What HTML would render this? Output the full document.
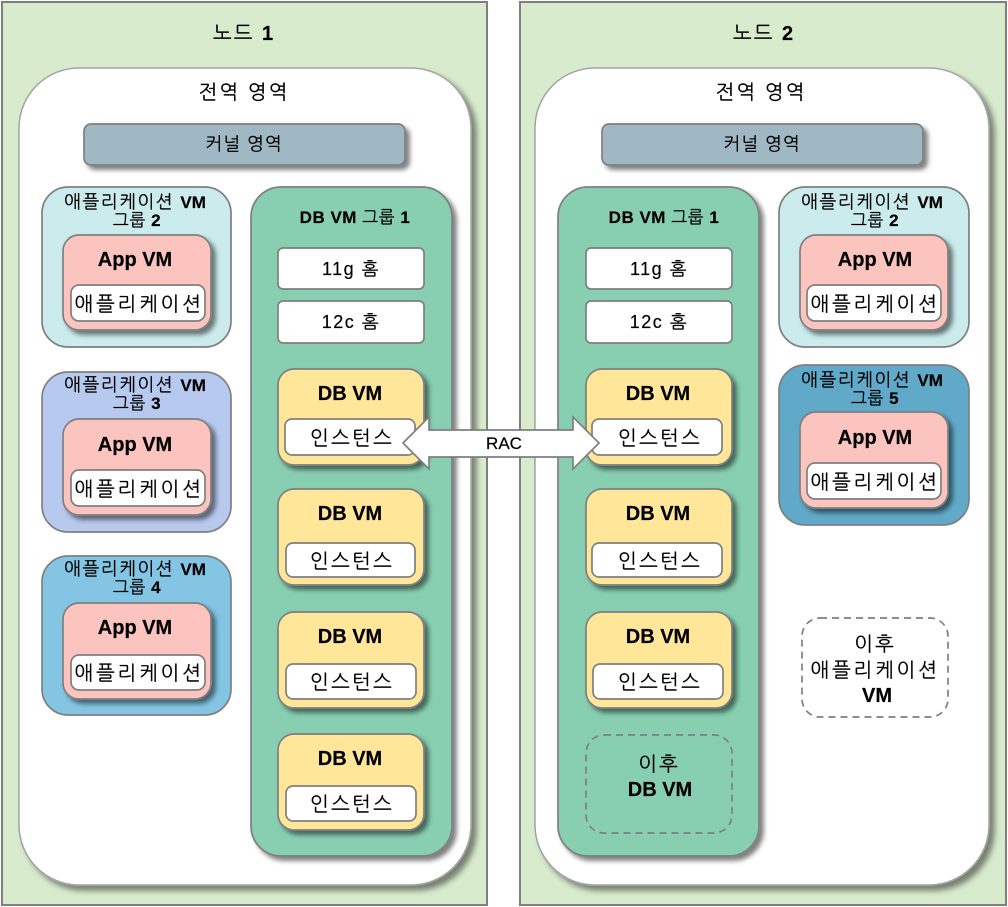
<!DOCTYPE html>
<html lang="ko"><head><meta charset="utf-8"><style>
html,body{margin:0;padding:0;background:#fff}
svg{display:block}
text{font-family:"Liberation Sans","NanumGothic","Noto Sans CJK KR",sans-serif;fill:#000;text-anchor:middle;stroke:#000;stroke-width:.2}
.b{font-weight:bold}
rect{stroke:#7f7f7f;stroke-width:1.7}
.s{filter:url(#sh)}
.w{fill:#fff}
.app{fill:#fcc4be}
.db{fill:#ffe699}
.grp{fill:#88cfb2}
.d{fill:none;stroke:#7f7f7f;stroke-dasharray:7 5}
.t{font-size:20px;letter-spacing:2px}
.l{font-size:20px;letter-spacing:2.7px}
.i{font-size:20px;letter-spacing:2.2px}
.m{font-size:18px;letter-spacing:1.5px}
.g{font-size:17px;letter-spacing:.5px}
.a{font-size:18px;letter-spacing:1.4px}
.a tspan{font-size:17px;letter-spacing:0}
.k{font-size:18px;letter-spacing:.9px}
.h{font-size:20px}
.gl{stroke:#a3a3a3;stroke-width:1.5;filter:url(#sh2)}
</style></head><body>
<svg width="1008" height="907" viewBox="0 0 1008 907" xmlns="http://www.w3.org/2000/svg">
<defs>
<filter id="sh" x="-20%" y="-20%" width="140%" height="140%"><feDropShadow dx="4" dy="4" stdDeviation="2.5" flood-color="#000" flood-opacity=".5"/></filter>
<filter id="sh2" x="-5%" y="-5%" width="110%" height="110%"><feDropShadow dx="5" dy="5" stdDeviation="3" flood-color="#000" flood-opacity=".45"/></filter>
</defs>
<rect x="2" y="2" width="485" height="903" fill="#d8ebcd" style="stroke-width:2"/>
<rect x="520" y="2" width="486" height="903" fill="#d8ebcd" style="stroke-width:2"/>
<rect class="gl w" x="19" y="68" width="452" height="817" rx="60"/>
<rect class="gl w" x="535" y="68" width="454" height="817" rx="60"/>
<text class="t" x="244" y="40">노드 <tspan class="b">1</tspan></text>
<text class="t" x="764" y="40">노드 <tspan class="b">2</tspan></text>
<text class="t" x="244" y="99">전역 영역</text>
<text class="t" x="761" y="99">전역 영역</text>
<rect class="s" fill="#a0b7c4" x="84" y="124" width="321" height="41" rx="7"/>
<rect class="s" fill="#a0b7c4" x="602" y="124" width="321" height="41" rx="7"/>
<text class="k" x="244" y="150">커널 영역</text>
<text class="k" x="762" y="150">커널 영역</text>

<rect fill="#cbebec" x="42" y="187" width="189" height="160" rx="26"/>
<rect fill="#b8c9ef" x="42" y="372" width="189" height="160" rx="26"/>
<rect fill="#84c5e4" x="42" y="556" width="189" height="159" rx="26"/>
<rect fill="#cbebec" x="779" y="187" width="190" height="160" rx="26"/>
<rect fill="#60a9c8" x="779" y="365" width="190" height="160" rx="26"/>

<text class="a" x="135" y="208">애플리케이션 <tspan class="b">VM</tspan></text><text class="g" x="137" y="226">그룹 <tspan class="b">2</tspan></text>
<text class="a" x="135" y="391">애플리케이션 <tspan class="b">VM</tspan></text><text class="g" x="137" y="409">그룹 <tspan class="b">3</tspan></text>
<text class="a" x="135" y="575">애플리케이션 <tspan class="b">VM</tspan></text><text class="g" x="137" y="593">그룹 <tspan class="b">4</tspan></text>
<text class="a" x="872" y="208">애플리케이션 <tspan class="b">VM</tspan></text><text class="g" x="875" y="226">그룹 <tspan class="b">2</tspan></text>
<text class="a" x="872" y="386">애플리케이션 <tspan class="b">VM</tspan></text><text class="g" x="875" y="404">그룹 <tspan class="b">5</tspan></text>

<rect class="s app" x="63" y="235" width="148" height="95" rx="16"/>
<rect class="s app" x="63" y="419" width="148" height="96" rx="16"/>
<rect class="s app" x="63" y="603" width="148" height="96" rx="16"/>
<rect class="s app" x="800" y="235" width="148" height="95" rx="16"/>
<rect class="s app" x="800" y="412" width="148" height="96" rx="16"/>
<rect class="w" x="71" y="285" width="134" height="36" rx="8"/>
<rect class="w" x="71" y="470" width="134" height="36" rx="8"/>
<rect class="w" x="71" y="655" width="134" height="35" rx="8"/>
<rect class="w" x="807" y="285" width="134" height="36" rx="8"/>
<rect class="w" x="807" y="463" width="134" height="36" rx="8"/>
<text class="b h" x="135" y="266">App VM</text>
<text class="b h" x="135" y="451">App VM</text>
<text class="b h" x="135" y="634">App VM</text>
<text class="b h" x="875" y="266">App VM</text>
<text class="b h" x="875" y="444">App VM</text>
<text class="l" x="139" y="311">애플리케이션</text>
<text class="l" x="139" y="496">애플리케이션</text>
<text class="l" x="139" y="680">애플리케이션</text>
<text class="l" x="875" y="311">애플리케이션</text>
<text class="l" x="875" y="489">애플리케이션</text>

<rect class="s grp" x="251" y="187" width="201" height="669" rx="30"/>
<rect class="s grp" x="558" y="187" width="201" height="669" rx="30"/>
<text class="g" x="355" y="223"><tspan class="b">DB VM</tspan> 그룹 <tspan class="b">1</tspan></text>
<text class="g" x="664" y="223"><tspan class="b">DB VM</tspan> 그룹 <tspan class="b">1</tspan></text>

<rect class="w" x="278" y="248" width="146" height="41" rx="5"/>
<rect class="w" x="278" y="301" width="146" height="42" rx="5"/>
<rect class="w" x="586" y="248" width="146" height="41" rx="5"/>
<rect class="w" x="586" y="301" width="146" height="42" rx="5"/>
<text class="m" x="351" y="275">11g 홈</text>
<text class="m" x="351" y="328">12c 홈</text>
<text class="m" x="659" y="275">11g 홈</text>
<text class="m" x="659" y="328">12c 홈</text>

<rect class="s db" x="278" y="369" width="146" height="96" rx="16"/>
<rect class="s db" x="278" y="489" width="146" height="96" rx="16"/>
<rect class="s db" x="278" y="612" width="146" height="96" rx="16"/>
<rect class="s db" x="278" y="734" width="146" height="96" rx="16"/>
<rect class="s db" x="586" y="369" width="146" height="96" rx="16"/>
<rect class="s db" x="586" y="489" width="146" height="96" rx="16"/>
<rect class="s db" x="586" y="612" width="146" height="96" rx="16"/>
<rect class="w" x="285" y="419" width="130" height="36" rx="7"/>
<rect class="w" x="286" y="543" width="129" height="34" rx="7"/>
<rect class="w" x="286" y="664" width="130" height="35" rx="7"/>
<rect class="w" x="286" y="786" width="130" height="35" rx="7"/>
<rect class="w" x="592" y="419" width="130" height="36" rx="7"/>
<rect class="w" x="592" y="543" width="130" height="34" rx="7"/>
<rect class="w" x="593" y="664" width="130" height="35" rx="7"/>
<text class="b h" x="350" y="400">DB VM</text>
<text class="b h" x="350" y="520">DB VM</text>
<text class="b h" x="350" y="643">DB VM</text>
<text class="b h" x="350" y="765">DB VM</text>
<text class="b h" x="658" y="400">DB VM</text>
<text class="b h" x="658" y="520">DB VM</text>
<text class="b h" x="658" y="643">DB VM</text>
<text class="i" x="352" y="445">인스턴스</text>
<text class="i" x="352" y="568">인스턴스</text>
<text class="i" x="352" y="689">인스턴스</text>
<text class="i" x="352" y="811">인스턴스</text>
<text class="i" x="660" y="445">인스턴스</text>
<text class="i" x="660" y="568">인스턴스</text>
<text class="i" x="660" y="689">인스턴스</text>

<rect class="d" x="586" y="735" width="146" height="98" rx="18"/>
<rect class="d" x="802" y="618" width="146" height="99" rx="18"/>
<text class="t" x="659" y="771">이후</text>
<text class="b h" x="660" y="796">DB VM</text>
<text class="t" x="875" y="651">이후</text>
<text class="l" x="875" y="677">애플리케이션</text>
<text class="b h" x="877" y="702">VM</text>

<path d="M403 443 L429 417 V430 H573 V417 L599 443 L573 469 V457 H429 V469 Z" fill="#fff" stroke="#7f7f7f" stroke-width="1.7"/>
<text x="504" y="449" font-size="17">RAC</text>
</svg>
</body></html>
